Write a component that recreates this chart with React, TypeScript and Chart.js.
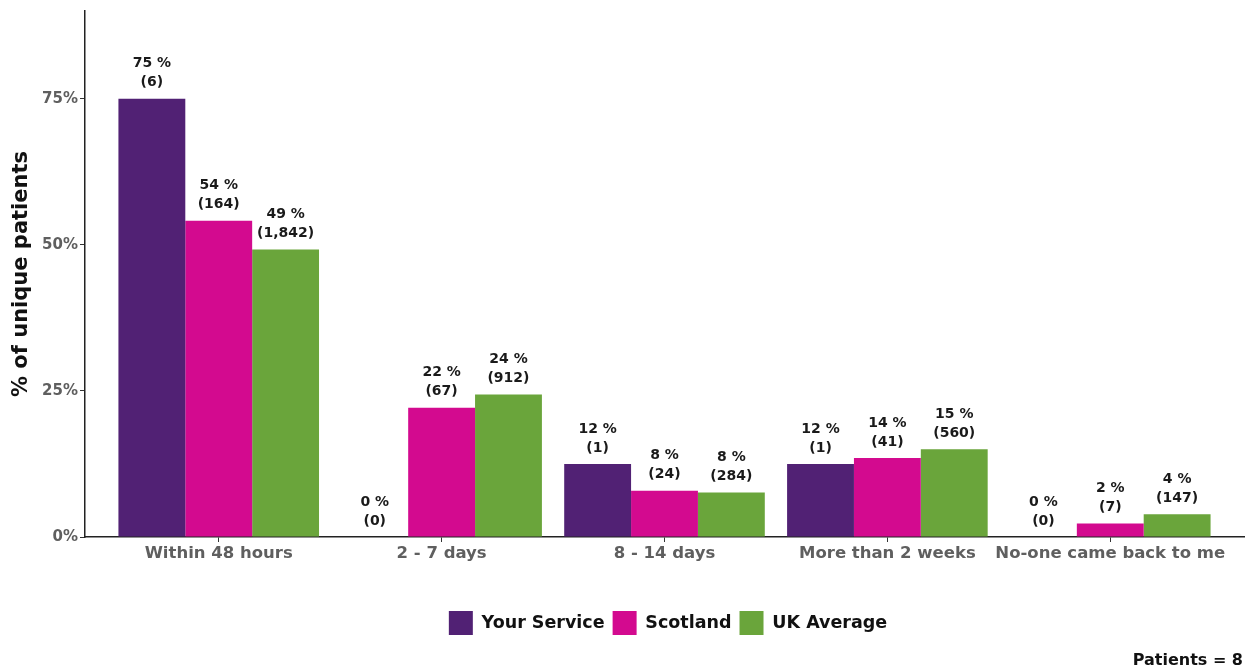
import React, { useEffect, useRef } from "react";
import { Chart, registerables } from "chart.js";

Chart.register(...registerables);

const categories = ["Within 48 hours", "2 - 7 days", "8 - 14 days", "More than 2 weeks", "No-one came back to me"];
const seriesNames = ["Your Service", "Scotland", "UK Average"];
const yourServicePct = [75, 0, 12.5, 12.5, 0];
const scotlandPct = [54.1, 22.1, 7.9, 13.5, 2.3];
const ukPct = [49.2, 24.4, 7.6, 15.0, 3.9];
const yourServiceCount = [6, 0, 1, 1, 0];
const scotlandCount = [164, 67, 24, 41, 7];
const ukCount = [1842, 912, 284, 560, 147];
const yTicks = [0, 25, 50, 75];
const colors = ["#512174", "#d30a8f", "#6aa53b"];
const patientsNote = "Patients = 8";

const FONT = "'DejaVu Sans', sans-serif";

function roundHalfEven(v: number): number {
  const f = Math.floor(v);
  const d = v - f;
  if (Math.abs(d - 0.5) < 1e-9) return f % 2 === 0 ? f : f + 1;
  return Math.round(v);
}

const pctSeries = [yourServicePct, scotlandPct, ukPct];
const countSeries = [yourServiceCount, scotlandCount, ukCount];

const labelPlugin = {
  id: "barLabels",
  afterDatasetsDraw(chart: any) {
    const ctx = chart.ctx;
    ctx.save();
    ctx.fillStyle = "#1a1a1a";
    ctx.font = `bold 14px ${FONT}`;
    ctx.textAlign = "center";
    ctx.textBaseline = "middle";
    chart.data.datasets.forEach((ds: any, di: number) => {
      const meta = chart.getDatasetMeta(di);
      meta.data.forEach((el: any, i: number) => {
        const pct = roundHalfEven(pctSeries[di][i]);
        const cnt = countSeries[di][i].toLocaleString("en-US");
        ctx.fillText(`${pct} %`, el.x, el.y - 35);
        ctx.fillText(`(${cnt})`, el.x, el.y - 16);
      });
    });
    ctx.restore();
  },
};

const shiftLegendPlugin = {
  id: "shiftLegend",
  afterLayout(chart: any) {
    const lg = chart.legend;
    if (lg) {
      lg.left += 46;
      lg.right += 46;
    }
  },
};

const notePlugin = {
  id: "note",
  afterDraw(chart: any) {
    const ctx = chart.ctx;
    ctx.save();
    ctx.fillStyle = "#111";
    ctx.font = `bold 16px ${FONT}`;
    ctx.textAlign = "right";
    ctx.textBaseline = "middle";
    ctx.fillText(patientsNote, chart.width - 4, 661);
    ctx.restore();
  },
};

export default function App() {
  const ref = useRef<HTMLCanvasElement>(null);
  useEffect(() => {
    if (!ref.current) return;
    const chart = new Chart(ref.current, {
      type: "bar",
      data: {
        datasets: seriesNames.map((name, di) => ({
          label: name,
          data: pctSeries[di].map((v, i) => ({ x: i + 1, y: v })),
          backgroundColor: colors[di],
          borderWidth: 0,
          categoryPercentage: 0.9,
          barPercentage: 1.0,
        })),
      },
      options: {
        animation: false,
        responsive: true,
        maintainAspectRatio: false,
        layout: { padding: { left: 0, right: 3, top: 4, bottom: 27 } },
        plugins: {
          legend: {
            position: "bottom",
            labels: {
              boxWidth: 24,
              boxHeight: 24,
              padding: 8,
              color: "#111",
              font: { family: FONT, size: 17.5, weight: "bold" },
            },
          },
          tooltip: { enabled: false },
        },
        scales: {
          x: {
            type: "linear",
            min: 0.4,
            max: 5.6,
            offset: false,
            afterBuildTicks: (scale: any) => {
              scale.ticks = categories.map((_, i) => ({ value: i + 1 }));
            },
            afterFit: (scale: any) => {
              scale.height = 66;
            },
            ticks: {
              autoSkip: false,
              maxRotation: 0,
              padding: 2,
              color: "#5f5f5f",
              font: { family: FONT, size: 16.5, weight: "bold" },
              callback: (v: any) => categories[Math.round(Number(v)) - 1] ?? "",
            },
            grid: { offset: false, drawOnChartArea: false, drawTicks: true, tickLength: 5, tickColor: "#333" },
            border: { display: true, color: "#222", width: 1.5 },
          },
          y: {
            min: 0,
            max: 90,
            afterBuildTicks: (scale: any) => {
              scale.ticks = yTicks.map((v) => ({ value: v }));
            },
            afterFit: (scale: any) => {
              scale.width = 85;
            },
            ticks: {
              padding: 2,
              color: "#5f5f5f",
              font: { family: FONT, size: 15, weight: "bold" },
              callback: (v: any) => `${v}%`,
            },
            grid: { drawOnChartArea: false, drawTicks: true, tickLength: 5, tickColor: "#333" },
            border: { display: true, color: "#222", width: 1.5 },
            title: {
              display: true,
              text: "% of unique patients",
              color: "#111",
              padding: { top: 9, bottom: 0 },
              font: { family: FONT, size: 21, weight: "bold" },
            },
          },
        },
      },
      plugins: [labelPlugin, shiftLegendPlugin, notePlugin],
    } as any);
    return () => chart.destroy();
  }, []);
  return (
    <div style={{ position: "fixed", left: 0, top: 0, width: 1247, height: 672, background: "#fff" }}>
      <canvas ref={ref} />
    </div>
  );
}
